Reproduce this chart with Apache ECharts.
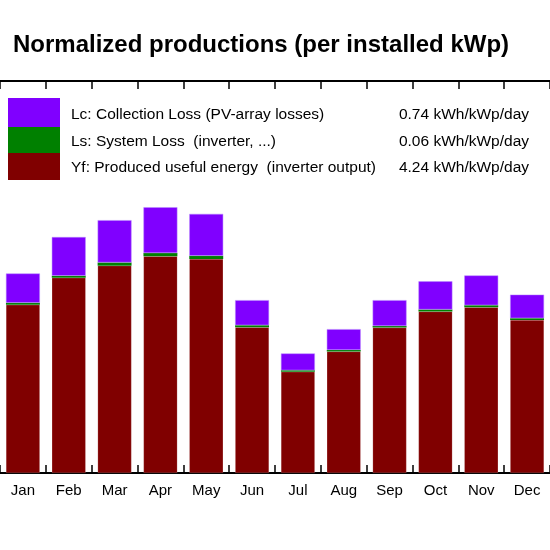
<!DOCTYPE html>
<html>
<head>
<meta charset="utf-8">
<script src="https://cdn.jsdelivr.net/npm/echarts@6/dist/echarts.min.js"></script>
<style>
    html, body { margin: 0; padding: 0; background: #fff; }
    #main { width: 550px; height: 550px; }
</style>
</head>
<body>
<div id="main"></div>
<script>
// 数据
var months = ['Jan', 'Feb', 'Mar', 'Apr', 'May', 'Jun', 'Jul', 'Aug', 'Sep', 'Oct', 'Nov', 'Dec'];
var yfData = [4.29, 4.98, 5.29, 5.53, 5.46, 3.72, 2.58, 3.10, 3.71, 4.12, 4.23, 3.90];
var lsData = [0.05, 0.05, 0.08, 0.08, 0.08, 0.05, 0.04, 0.04, 0.04, 0.05, 0.05, 0.05];
var lcData = [0.75, 0.99, 1.08, 1.17, 1.07, 0.64, 0.43, 0.53, 0.66, 0.72, 0.76, 0.60];
var legendNames = ['Lc: Collection Loss (PV-array losses)', 'Ls: System Loss  (inverter, ...)', 'Yf: Produced useful energy  (inverter output)'];
var legendValues = ['0.74 kWh/kWp/day', '0.06 kWh/kWp/day', '4.24 kWh/kWp/day'];
var colors = ['#8000ff', '#008000', '#800000'];

var font = 'Arial, "Liberation Sans", sans-serif';

// 图例（手画）
var graphics = [];
[0, 1, 2].forEach(function (i) {
    var y0 = [98, 127, 153][i];
    var h = [29, 26, 27][i];
    graphics.push({ type: 'rect', shape: { x: 8, y: y0, width: 52, height: h }, style: { fill: colors[i] } });
    graphics.push({ type: 'text', x: 71, y: 115 + i * 26.5, style: { text: legendNames[i], font: '15.5px ' + font, fill: '#000', textVerticalAlign: 'middle' } });
    graphics.push({ type: 'text', x: 529, y: 115 + i * 26.5, style: { text: legendValues[i], font: '15.5px ' + font, fill: '#000', textAlign: 'right', textVerticalAlign: 'middle' } });
});

var barStyle = function (c) {
    return { color: c, borderColor: c === '#8000ff' ? '#b98cff' : 'rgba(255,255,255,0.3)', borderWidth: 0.5 };
};

var tick = { show: true, inside: true, length: 8, interval: 0, lineStyle: { color: '#000', width: 1.5 } };

var option = {
    animation: false,
    title: {
        text: 'Normalized productions (per installed kWp)',
        left: 8, top: 28,
        textStyle: { fontSize: 24, fontWeight: 'bold', fontFamily: font, color: '#000' }
    },
    grid: { left: -13, right: -48, top: 81, bottom: 77 },
    xAxis: [{
        type: 'category',
        data: months,
        axisLine: { lineStyle: { color: '#000', width: 2 } },
        axisTick: tick,
        axisLabel: { color: '#000', fontSize: 15, fontFamily: font, margin: 10, interval: 0 }
    }, {
        type: 'category',
        position: 'top',
        data: months,
        axisLine: { lineStyle: { color: '#000', width: 2 } },
        axisTick: tick,
        axisLabel: { show: false }
    }],
    yAxis: {
        type: 'value', min: 0, max: 10, interval: 2,
        axisLine: { show: false },
        axisTick: { show: false },
        axisLabel: { show: false },
        splitLine: { show: false }
    },
    series: [
        { name: 'Yf', type: 'bar', stack: 'a', data: yfData, barWidth: '74%', itemStyle: barStyle(colors[2]) },
        { name: 'Ls', type: 'bar', stack: 'a', data: lsData, itemStyle: { color: colors[1] } },
        { name: 'Lc', type: 'bar', stack: 'a', data: lcData, itemStyle: barStyle(colors[0]) }
    ],
    graphic: graphics
};

var myChart = echarts.init(document.getElementById('main'));
myChart.setOption(option);
</script>
</body>
</html>
